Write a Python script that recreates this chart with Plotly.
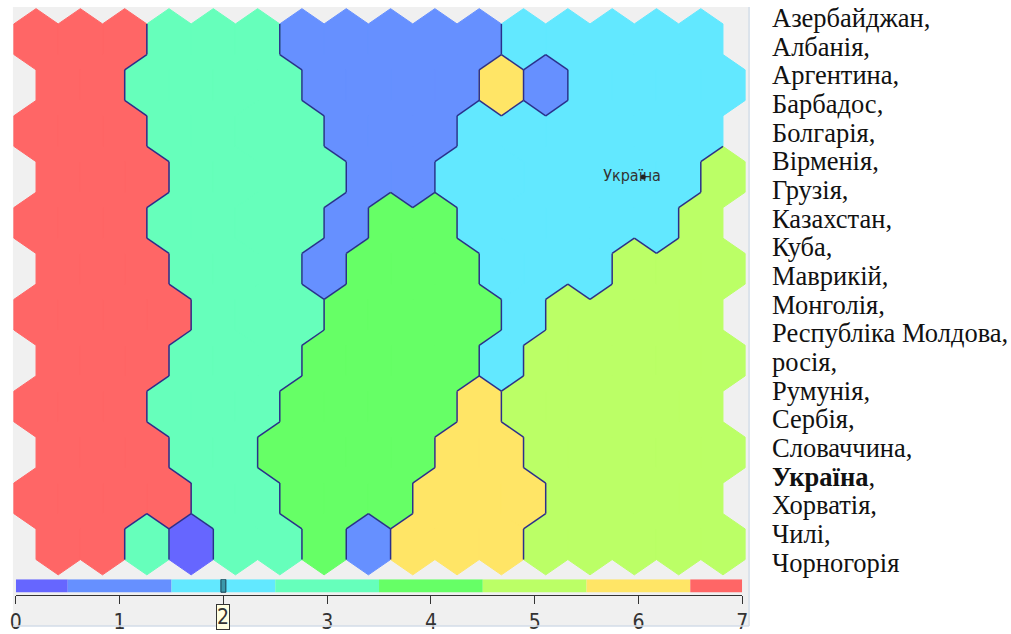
import plotly.graph_objects as go

# ---------------- data ----------------
countries = [
    "Азербайджан", "Албанія", "Аргентина", "Барбадос", "Болгарія", "Вірменія",
    "Грузія", "Казахстан", "Куба", "Маврикій", "Монголія", "Республіка Молдова",
    "росія", "Румунія", "Сербія", "Словаччина", "Україна", "Хорватія", "Чилі",
    "Чорногорія",
]
highlight_country = "Україна"

# cluster index of every map cell, rows from top, 16 columns (odd rows shifted right)
grid_values = [
    [7, 7, 7, 3, 3, 3, 1, 1, 1, 1, 1, 2, 2, 2, 2, 2],
    [7, 7, 3, 3, 3, 3, 1, 1, 1, 1, 6, 1, 2, 2, 2, 2],
    [7, 7, 7, 3, 3, 3, 3, 1, 1, 1, 2, 2, 2, 2, 2, 2],
    [7, 7, 7, 3, 3, 3, 3, 1, 1, 2, 2, 2, 2, 2, 2, 5],
    [7, 7, 7, 3, 3, 3, 3, 1, 4, 4, 2, 2, 2, 2, 2, 5],
    [7, 7, 7, 3, 3, 3, 1, 4, 4, 4, 2, 2, 2, 5, 5, 5],
    [7, 7, 7, 7, 3, 3, 3, 4, 4, 4, 4, 2, 5, 5, 5, 5],
    [7, 7, 7, 3, 3, 3, 4, 4, 4, 4, 2, 5, 5, 5, 5, 5],
    [7, 7, 7, 3, 3, 3, 4, 4, 4, 4, 6, 5, 5, 5, 5, 5],
    [7, 7, 7, 3, 3, 4, 4, 4, 4, 6, 6, 5, 5, 5, 5, 5],
    [7, 7, 7, 7, 3, 3, 4, 4, 4, 6, 6, 6, 5, 5, 5, 5],
    [7, 7, 3, 0, 3, 3, 4, 1, 6, 6, 6, 5, 5, 5, 5, 5],
]
cluster_colors = ["#6666FF", "#6690FF", "#62E8FF", "#66FFBB",
                  "#66FF66", "#BBFF66", "#FFE566", "#FF6666"]
scale_ticks = [0, 1, 2, 3, 4, 5, 6, 7]
scale_tick_labels = ["0", "1", "2", "3", "4", "5", "6", "7"]
selected_value = 2
label_row, label_col = 3, 13
label_text = "Україна"

# ---------------- layout geometry (pixels) ----------------
FIG_W, FIG_H = 1011, 634
PANEL_L, PANEL_T, PANEL_R, PANEL_B = 7, 7, 752, 630
HEX_X0, HEX_W = 30.4, 44.85     # centre of first cell, column pitch
HEX_Y0, HEX_H = 39.5, 46.2      # centre of first row, row pitch
BAR_L, BAR_R, BAR_T, BAR_B, AXIS_Y = 10, 745, 583, 596, 599
LIST_X, LIST_Y0, LIST_DY = 773, 18, 28.85

BORDER = "#2A2F8C"
TEXT = "#333333"
NARROW = "Liberation Sans Narrow, DejaVu Sans Condensed, Arial Narrow, sans-serif"

def px2py(p):
    return 1 - p / FIG_H

n_rows = len(grid_values)
n_cols = len(grid_values[0])

# hexagon (pointy top) relative vertices in cell units
hex_dx = [0, 0.5, 0.5, 0, -0.5, -0.5]
hex_dy = [-2 / 3, -1 / 3, 1 / 3, 2 / 3, 1 / 3, -1 / 3]

def centre(r, c):
    return c + 0.5 * (r % 2), r

fig = go.Figure()

# filled cells, one trace per cluster
for v, col in enumerate(cluster_colors):
    xs, ys = [], []
    for r in range(n_rows):
        for c in range(n_cols):
            if grid_values[r][c] != v:
                continue
            cx, cy = centre(r, c)
            for k in list(range(6)) + [0]:
                xs.append(cx + hex_dx[k])
                ys.append(cy + hex_dy[k])
            xs.append(None)
            ys.append(None)
    if xs:
        fig.add_trace(go.Scatter(x=xs, y=ys, mode="lines", fill="toself",
                                 fillcolor=col, line=dict(color=col, width=1),
                                 hoverinfo="skip", showlegend=False))

# cluster boundaries
bx, by = [], []
for r in range(n_rows):
    for c in range(n_cols):
        v = grid_values[r][c]
        cx, cy = centre(r, c)
        # (neighbour, vertex a, vertex b)
        nbrs = [((r, c + 1), 1, 2),
                ((r + 1, c + (r % 2)), 2, 3),
                ((r + 1, c - 1 + (r % 2)), 3, 4)]
        for (nr, nc), a, b in nbrs:
            if 0 <= nr < n_rows and 0 <= nc < n_cols and grid_values[nr][nc] != v:
                bx += [cx + hex_dx[a], cx + hex_dx[b], None]
                by += [cy + hex_dy[a], cy + hex_dy[b], None]
fig.add_trace(go.Scatter(x=bx, y=by, mode="lines",
                         line=dict(color=BORDER, width=1.5),
                         hoverinfo="skip", showlegend=False))

# label of the highlighted cell
lx, ly = centre(label_row, label_col)
fig.add_trace(go.Scatter(x=[lx - 0.05], y=[ly], mode="text", text=[label_text],
                         textfont=dict(family=NARROW, size=16, color=TEXT),
                         hoverinfo="skip", showlegend=False))
fig.add_trace(go.Scatter(x=[lx + 0.2], y=[ly], mode="markers",
                         marker=dict(size=5, color="#222222"),
                         hoverinfo="skip", showlegend=False))

# colour scale bar
starts = [max(0, v - 0.5) for v in scale_ticks]
ends = [min(scale_ticks[-1], v + 0.5) for v in scale_ticks]
fig.add_trace(go.Bar(orientation="h", y=[0] * len(scale_ticks),
                     base=starts, x=[e - s for s, e in zip(starts, ends)],
                     width=1, marker=dict(color=cluster_colors, line=dict(width=0)),
                     xaxis="x2", yaxis="y2", hoverinfo="skip", showlegend=False))

bar_units_per_px = 1 / (BAR_B - BAR_T)
marker_half = 2.5 / ((BAR_R - BAR_L) / scale_ticks[-1])
fig.add_shape(type="rect", xref="x2", yref="y2",
              x0=selected_value - marker_half, x1=selected_value + marker_half,
              y0=-0.5, y1=0.5, fillcolor="#3A98AA",
              line=dict(color="#1B3C4C", width=1))

fig.add_annotation(x=selected_value, xref="x2", y=px2py(621), yref="paper",
                   text=scale_tick_labels[scale_ticks.index(selected_value)],
                   showarrow=False, font=dict(family=NARROW, size=21, color=TEXT),
                   bgcolor="#FFFFE1", bordercolor="#333333", borderwidth=1,
                   borderpad=0, yanchor="middle")

# country list
for i, name in enumerate(countries):
    sep = "," if i < len(countries) - 1 else ""
    txt = f"<b>{name}</b>{sep}" if name == highlight_country else f"{name}{sep}"
    fig.add_annotation(x=LIST_X / FIG_W, y=px2py(LIST_Y0 + LIST_DY * i),
                       xref="paper", yref="paper", xanchor="left", yanchor="middle",
                       text=txt, showarrow=False,
                       font=dict(family="Liberation Serif, Times New Roman, serif",
                                 size=26.5, color="#111111"))

# panel edge lines
fig.add_shape(type="line", xref="paper", yref="paper",
              x0=PANEL_R / FIG_W, x1=PANEL_R / FIG_W, y0=px2py(PANEL_B), y1=px2py(PANEL_T),
              line=dict(color="#D3DDE8", width=1.5))
fig.add_shape(type="line", xref="paper", yref="paper",
              x0=PANEL_L / FIG_W, x1=PANEL_R / FIG_W, y0=px2py(PANEL_B), y1=px2py(PANEL_B),
              line=dict(color="#D3DDE8", width=1.5))

hidden = dict(showgrid=False, zeroline=False, showticklabels=False,
              showline=False, ticks="", fixedrange=True)

tick_text = ["" if t == selected_value else lab
             for t, lab in zip(scale_ticks, scale_tick_labels)]

fig.update_layout(
    width=FIG_W, height=FIG_H,
    margin=dict(l=0, r=0, t=0, b=0),
    paper_bgcolor="white", plot_bgcolor="#F0F0F0",
    xaxis=dict(domain=[PANEL_L / FIG_W, PANEL_R / FIG_W],
               range=[(PANEL_L - HEX_X0) / HEX_W, (PANEL_R - HEX_X0) / HEX_W],
               **hidden),
    yaxis=dict(domain=[px2py(PANEL_B), px2py(PANEL_T)],
               range=[(PANEL_B - HEX_Y0) / HEX_H, (PANEL_T - HEX_Y0) / HEX_H],
               **hidden),
    xaxis2=dict(domain=[BAR_L / FIG_W, BAR_R / FIG_W], range=[0, scale_ticks[-1]],
                anchor="y2", showgrid=False, zeroline=False, showline=True,
                linecolor=TEXT, linewidth=1, ticks="outside", ticklen=8,
                tickcolor=TEXT, tickwidth=1, tickvals=scale_ticks, ticktext=tick_text,
                tickfont=dict(family=NARROW, size=21, color=TEXT), fixedrange=True),
    yaxis2=dict(domain=[px2py(AXIS_Y), px2py(BAR_T)],
                range=[-0.5 - (AXIS_Y - BAR_B) * bar_units_per_px, 0.5],
                anchor="x2", **hidden),
    showlegend=False,
)

fig.write_html("out.html",
               config={"displayModeBar": False},
               post_script="document.body.style.margin='0';"
                           "document.body.style.overflow='hidden';")
